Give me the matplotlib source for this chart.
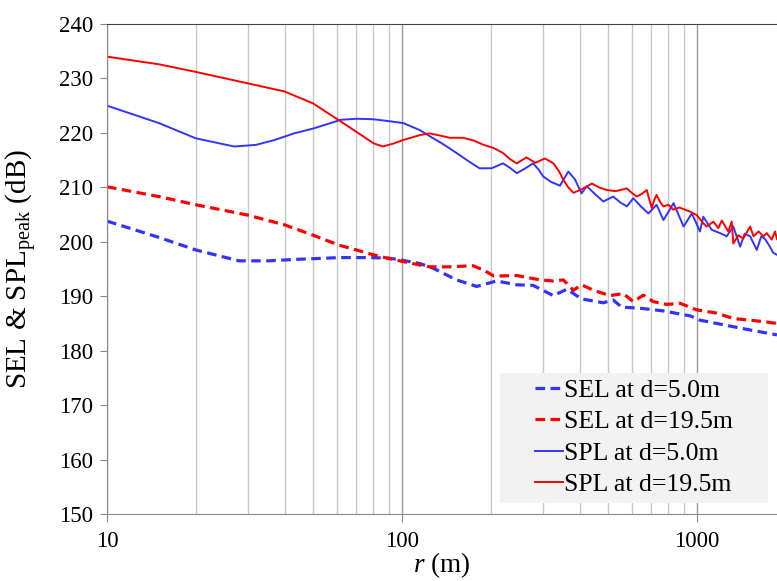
import matplotlib
matplotlib.use('Agg')
import matplotlib.pyplot as plt
from matplotlib.patches import Rectangle
from matplotlib.ticker import LogLocator, FixedLocator, NullFormatter, FuncFormatter

plt.rcParams['font.family'] = ['Liberation Serif', 'DejaVu Serif']
plt.rcParams['mathtext.fontset'] = 'custom'
plt.rcParams['mathtext.rm'] = 'Liberation Serif'
plt.rcParams['mathtext.it'] = 'Liberation Serif:italic'

# SPL peak at d=19.5m
r_spl195 = [10, 15, 20, 30, 40, 50, 60, 70, 80, 86, 93, 101, 115, 124, 135, 145, 161, 175,
            189, 205, 220, 232, 245, 264, 283, 305, 326, 340, 352, 366, 381, 405, 440, 465,
            494, 530, 578, 600, 625, 650, 675, 702, 715, 729, 750, 769, 800, 830, 870, 910,
            950, 997, 1050, 1079, 1136, 1180, 1213, 1276, 1311, 1327, 1380, 1435, 1513,
            1554, 1615, 1680, 1722, 1791, 1837, 1866]
spl195 = [234.0, 232.6, 231.2, 229.1, 227.6, 225.4, 222.6, 220.2, 218.1, 217.5, 218.0, 218.7,
          219.6, 219.9, 219.5, 219.1, 219.1, 218.6, 217.8, 217.2, 216.3, 215.2, 214.4, 215.5,
          214.5, 215.3, 214.4, 213.0, 211.4, 210.0, 209.0, 209.6, 210.7, 210.0, 209.5, 209.3,
          209.8, 209.0, 208.3, 208.8, 209.5, 206.2, 207.6, 208.6, 207.3, 206.5, 206.8, 205.9,
          206.3, 205.9, 205.5, 204.9, 203.4, 202.8, 203.7, 202.5, 203.9, 201.9, 203.7, 199.7,
          201.2, 200.6, 202.8, 201.0, 201.9, 201.0, 201.6, 200.4, 201.9, 200.5]

# SPL peak at d=5.0m
r_spl5 = [10, 15, 20, 27, 32, 37, 43, 50, 62, 70, 80, 89, 101, 115, 125, 140, 153, 168, 183,
          201, 220, 232, 245, 262, 278, 290, 301, 320, 343, 366, 385, 406, 423, 450, 481, 520,
          550, 578, 608, 645, 684, 729, 769, 800, 832, 900, 960, 1023, 1050, 1121, 1196, 1260,
          1327, 1400, 1450, 1513, 1594, 1650, 1700, 1766, 1810, 1866]
spl5 = [225.0, 221.8, 219.0, 217.5, 217.8, 218.7, 219.9, 220.8, 222.4, 222.6, 222.5, 222.2,
        221.8, 220.5, 219.3, 217.7, 216.3, 214.8, 213.5, 213.5, 214.4, 213.6, 212.6, 213.5,
        214.4, 213.3, 212.0, 211.0, 210.3, 212.9, 211.5, 208.9, 210.2, 208.8, 207.4, 208.3,
        207.2, 206.5, 208.0, 206.5, 205.2, 206.8, 204.0, 205.5, 207.1, 202.8, 205.2, 201.9,
        204.6, 202.2, 201.6, 201.0, 202.8, 199.1, 201.5, 201.0, 198.5, 201.0, 200.5, 199.1,
        198.0, 197.6]

# SEL at d=19.5m
r_sel195 = [10, 15, 20, 30, 40, 50, 61, 70, 80, 89, 98, 111, 124, 145, 174, 189, 205, 245, 294,
            326, 352, 381, 406, 445, 507, 562, 608, 658, 711, 789, 875, 997, 1166, 1327, 1513,
            1700, 1866]
sel195 = [210.1, 208.3, 206.8, 204.9, 203.1, 201.2, 199.4, 198.5, 197.6, 197.0, 196.5, 195.9,
          195.4, 195.4, 195.6, 194.8, 193.7, 193.8, 193.0, 192.8, 193.0, 191.1, 192.1, 191.1,
          190.1, 190.5, 189.0, 190.2, 189.0, 188.5, 188.7, 187.5, 186.9, 185.9, 185.6, 185.3,
          185.0]

# SEL at d=5.0m
r_sel5 = [10, 15, 20, 28, 35, 45, 62, 76, 90, 98, 115, 128, 153, 179, 209, 245, 278, 326, 362,
          406, 481, 520, 555, 640, 769, 946, 1023, 1166, 1327, 1513, 1866]
sel5 = [203.8, 200.8, 198.5, 196.5, 196.5, 196.8, 197.1, 197.1, 197.0, 196.7, 196.0, 195.1,
        193.0, 191.8, 192.8, 192.1, 192.0, 190.1, 191.3, 189.5, 188.8, 189.3, 188.0, 187.8,
        187.3, 186.4, 185.6, 185.0, 184.4, 183.8, 182.9]

blue = '#3333ff'
red = '#ff0000'

fig = plt.figure(figsize=(7.77, 5.81), dpi=100)
ax = fig.add_axes([0.1377, 0.1153, 0.8623, 0.8434])

ax.plot(r_sel5, sel5, color=blue, lw=2.3, ls=(0, (3, 1.7)), label='SEL at d=5.0m')
ax.plot(r_sel195, sel195, color=red, lw=2.3, ls=(0, (3, 1.7)), label='SEL at d=19.5m')
ax.plot(r_spl5, spl5, color=blue, lw=1.4, label='SPL at d=5.0m')
ax.plot(r_spl195, spl195, color=red, lw=1.4, label='SPL at d=19.5m')

ax.set_xscale('log')
ax.set_xlim(10, 1866)
ax.set_ylim(150, 240)
ax.set_yticks(range(150, 241, 10))
ax.xaxis.set_major_locator(FixedLocator([10, 100, 1000]))
ax.xaxis.set_major_formatter(FuncFormatter(lambda v, p: '%d' % v))
ax.xaxis.set_minor_locator(LogLocator(base=10, subs=range(2, 10)))
ax.xaxis.set_minor_formatter(NullFormatter())

ax.grid(True, which='major', axis='x', color='#999999', lw=1)
ax.grid(True, which='minor', axis='x', color='#c8c8c8', lw=1)
ax.tick_params(axis='both', which='major', labelsize=16.5, color='#888888', direction='out')
ax.tick_params(axis='x', which='major', length=6, pad=6)
ax.tick_params(axis='y', which='major', length=5, pad=5)
ax.tick_params(axis='x', which='minor', length=0)

for s in ['left', 'bottom']:
    ax.spines[s].set_color('#888888')
ax.spines['top'].set_color('#444444')
ax.spines['right'].set_visible(False)

ax.set_xlabel('$r$ (m)', fontsize=19.5, labelpad=-1)
ax.set_ylabel('SEL & SPL$_{\\rm peak}$ (dB)', fontsize=21, labelpad=14)

# legend background box
ax.add_patch(Rectangle((0.5866, 0.023), 0.3995, 0.2654, transform=ax.transAxes,
                       facecolor='#f2f2f2', edgecolor='none', zorder=4))
leg = ax.legend(loc='center', bbox_to_anchor=(0.7864, 0.1557), borderaxespad=0,
                fontsize=18.5, handlelength=1.1, handletextpad=0.05, frameon=False,
                labelspacing=0.33, borderpad=0)

plt.savefig('out.png', dpi=100)
